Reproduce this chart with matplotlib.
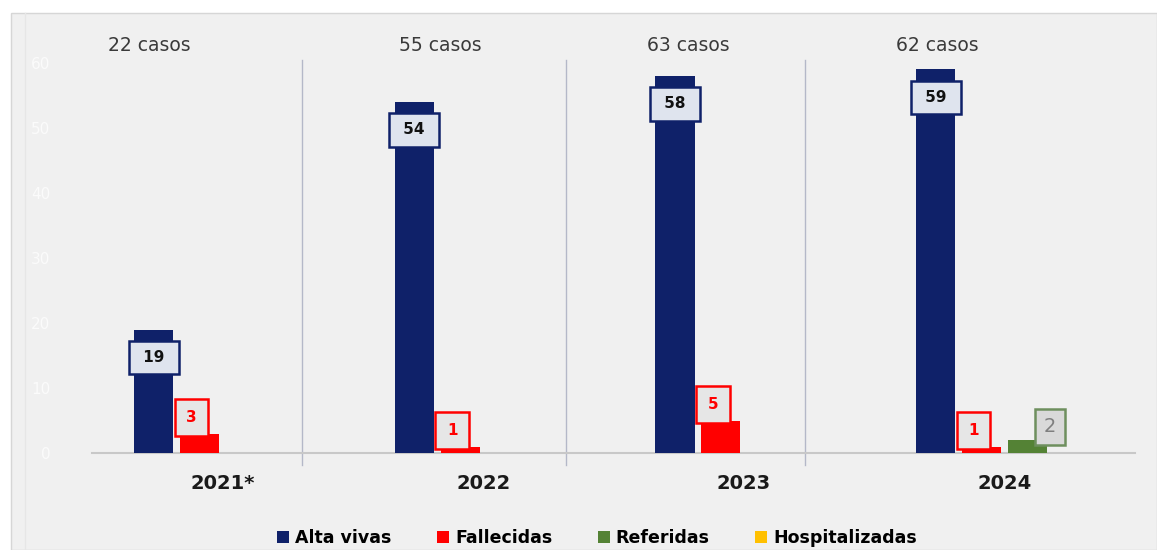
import matplotlib
matplotlib.use("Agg")
import matplotlib.pyplot as plt
from matplotlib.patches import Rectangle
from matplotlib.lines import Line2D
import numpy as np

# Data
years = ["2021*", "2022", "2023", "2024"]
total_cases = [22, 55, 63, 62]
alta_vivas = [19, 54, 58, 59]
fallecidas = [3, 1, 5, 1]
referidas = [0, 0, 0, 2]
hospitalizadas = [0, 0, 0, 0]
series_names = ["Alta vivas", "Fallecidas", "Referidas", "Hospitalizadas"]
y_ticks = [0, 10, 20, 30, 40, 50, 60]

# Styling
colors = ["#0f2169", "#ff0000", "#548235", "#ffc000"]
bg = "#f0f0f0"

fig = plt.figure(figsize=(11.57, 5.5), dpi=100, facecolor="white")
# panel background with a thin frame
fig.patches.append(Rectangle((11 / 1157, 0), 1 - 11 / 1157, 1 - 13 / 550,
                             transform=fig.transFigure, facecolor=bg,
                             edgecolor="#d6d6d6", linewidth=1.0, zorder=-10))
fig.lines.append(Line2D([25 / 1157, 25 / 1157], [0, 1 - 13 / 550],
                        transform=fig.transFigure, color="#e6e6e6", lw=1, zorder=-9))

ax = fig.add_axes([92 / 1157, 97 / 550, 1043 / 1157, 396.5 / 550])
ax.set_facecolor("none")

x = np.arange(len(years))
width = 0.15
step = 0.176
offsets = np.array([-1.5, -0.5, 0.5, 1.5]) * step
data = [alta_vivas, fallecidas, referidas, hospitalizadas]

bars = []
for i, (vals, col, name) in enumerate(zip(data, colors, series_names)):
    b = ax.bar(x + offsets[i], vals, width, color=col, label=name, zorder=3)
    bars.append(b)

ax.set_xlim(-0.5, 3.5)
ax.set_ylim(0, 61)

px = 0.72  # points per pixel at 100 dpi

# value labels
def boxed(xv, yv, text, dx, dy, edge, face, tcol, weight="bold", size=11, pad=0.7):
    ax.annotate(text, (xv, yv), xytext=(dx * px, dy * px), textcoords="offset points",
                ha="center", va="center", fontsize=size, fontweight=weight, color=tcol,
                zorder=5,
                bbox=dict(boxstyle=f"square,pad={pad}", facecolor=face, edgecolor=edge,
                          linewidth=1.8))

for i, v in enumerate(alta_vivas):
    boxed(x[i] + offsets[0], v, f" {v} ", 0, -28, "#0f2169", "#dfe4ee", "#111111", pad=0.6)
for i, v in enumerate(fallecidas):
    if v > 0:
        boxed(x[i] + offsets[1], v, str(v), -8, 16, "#ff0000", "#e6e6e6", "#ff0000", pad=0.75)
for i, v in enumerate(referidas):
    if v > 0:
        boxed(x[i] + offsets[2], v, str(v), 22, 13, "#6e8f5e", "#d9d9d9", "#7f7f7f",
              weight="normal", size=14, pad=0.45)

# case totals above each group
casos_x = [-0.28, 0.835, 1.785, 2.743]
for cx, n in zip(casos_x, total_cases):
    ax.text(cx, 1.029, f"{n} casos", transform=ax.get_xaxis_transform(),
            ha="center", va="center", fontsize=13.5, color="#3a3a3a", clip_on=False)

# vertical separators between years
for sx in [0.307, 1.318, 2.234]:
    ax.plot([sx, sx], [-1.8, 60.5], color="#b4b8c8", lw=1.0, zorder=1, clip_on=False)

# axes styling
for s in ["top", "right", "left"]:
    ax.spines[s].set_visible(False)
ax.spines["bottom"].set_color("#c8c8c8")
ax.spines["bottom"].set_linewidth(1.5)
ax.set_xticks(x)
ax.set_xticklabels(years, fontsize=14, fontweight="bold", color="#1a1a1a")
ax.tick_params(axis="x", length=0, pad=15)
ax.set_yticks(y_ticks)
ax.set_yticklabels([str(t) for t in y_ticks], color="#fbfbfb", fontsize=11)
ax.tick_params(axis="y", length=0, pad=30)

leg = fig.legend(handles=bars, labels=series_names, loc="center",
                 bbox_to_anchor=(597 / 1157, 1 - 538 / 550), ncol=4, frameon=False,
                 handlelength=0.7, handleheight=0.7, handletextpad=0.35, columnspacing=2.6,
                 prop={"weight": "bold", "size": 12.5})

fig.savefig("out.png", dpi=100, facecolor="white")
